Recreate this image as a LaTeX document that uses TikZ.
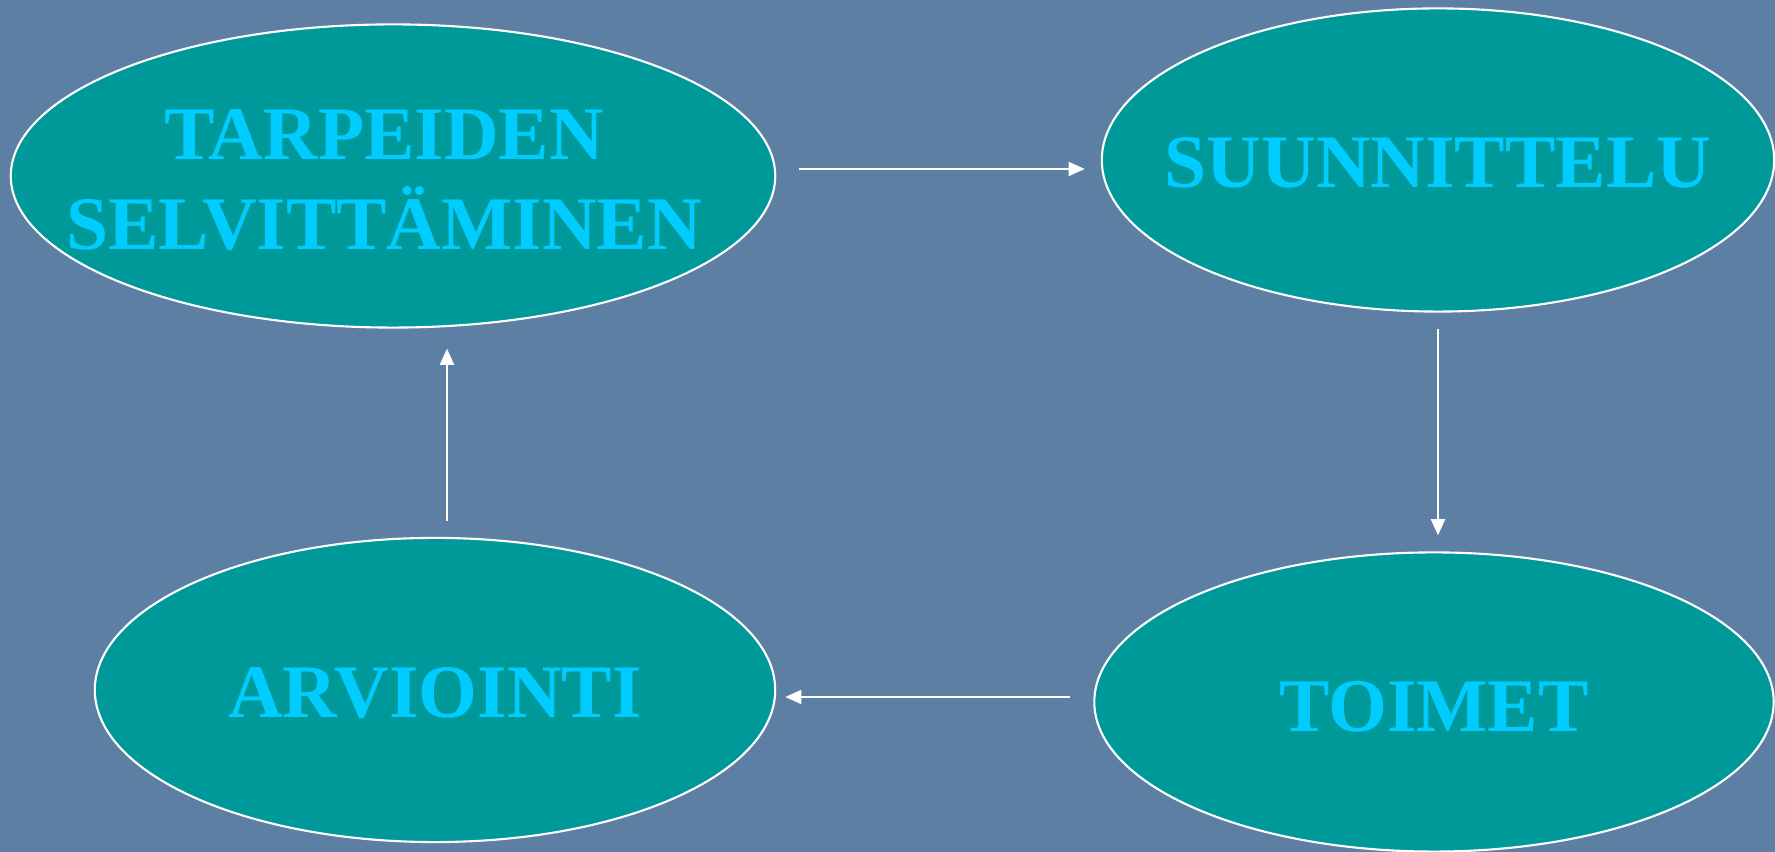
\documentclass[tikz,border=0pt]{standalone}
\usepackage{fontspec}
\setmainfont{Liberation Serif}
\usetikzlibrary{arrows.meta, shapes.geometric, calc}
\definecolor{slideblue}{RGB}{93,127,163}
\definecolor{ovalteal}{RGB}{0,153,153}
\definecolor{textcyan}{RGB}{0,204,255}

\begin{document}
\begin{tikzpicture}[
  x=0.01cm, y=0.01cm,
  oval/.style = {
    ellipse, draw=white, line width=0.6pt, fill=ovalteal,
    inner sep=0pt, minimum height=3.03cm
  },
  word/.style = {
    text=textcyan, align=center, inner sep=0pt,
    font=\fontsize{21.5}{25.6}\selectfont\bfseries
  },
  arr/.style = {-{Triangle[length=4.6pt, width=4pt]}, draw=white, line width=0.5pt}
]
\fill[slideblue] (0,0) rectangle (1775,852);
\useasboundingbox (0,0) rectangle (1775,852);
\node[oval, minimum width=7.64cm] (tarp) at (393,676) {};
\node[oval, minimum width=6.72cm] (suun) at (1438,692) {};
\node[oval, minimum width=6.80cm, minimum height=3.04cm] (arvi) at (435,162) {};
\node[oval, minimum width=6.79cm, minimum height=2.99cm] (toim) at (1434,150) {};
\node[word] (tarpT) at ($(tarp)+(-9,-4)$) {TARPEIDEN\\SELVITTÄMINEN};
\node[word] (suunT) at ($(suun)+(0,-3)$) {SUUNNITTELU};
\node[word] (arviT) at ($(arvi)+(0,-3)$) {ARVIOINTI};
\node[word] (toimT) at ($(toim)+(0,-5)$) {TOIMET};
\draw[arr] ($(tarp.east)+(23,7)$) -- ($(suun.west)+(-16,-9)$);
\draw[arr] ($(suun.south)+(0,-16)$) -- ($(toim.north)+(4,16)$);
\draw[arr] ($(toim.west)+(-23,5)$) -- ($(arvi.east)+(9,-7)$);
\draw[arr] ($(arvi.north)+(12,16)$) -- ($(tarp.south)+(54,-20)$);
\end{tikzpicture}
\end{document}
